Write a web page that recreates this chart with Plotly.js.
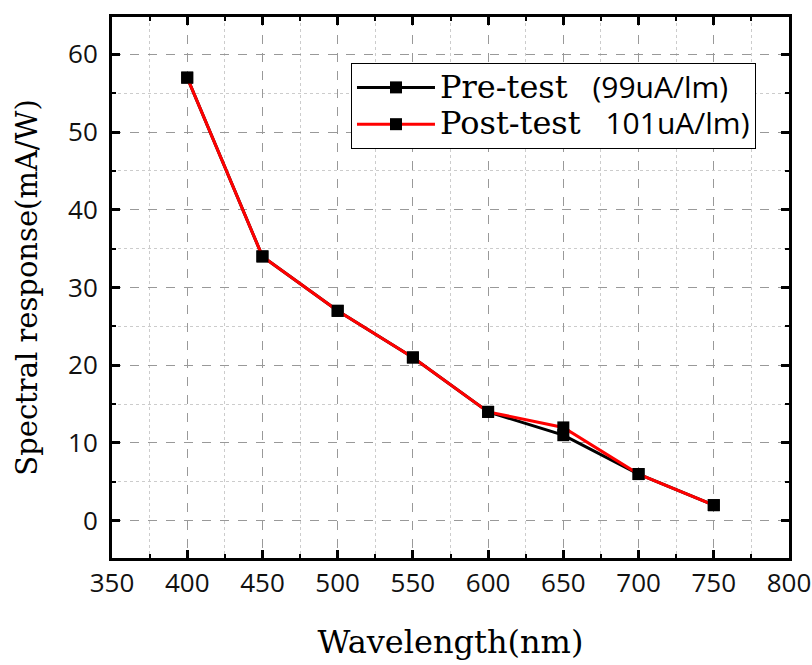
<!DOCTYPE html>
<html><head><meta charset="utf-8">
<script src="https://cdn.plot.ly/plotly-3.0.1.min.js"></script>
<style>body{margin:0;background:#fff}#c{width:812px;height:665px}</style>
</head><body><div id="c"></div>
<script>
const wavelength = [400, 450, 500, 550, 600, 650, 700, 750];
const preTest = [57, 34, 27, 21, 14, 11, 6, 2];
const postTest = [57, 34, 27, 21, 14, 12, 6, 2];
const preName = 'Pre-test';
const preNote = '(99uA/lm)';
const postName = 'Post-test';
const postNote = '101uA/lm)';

const nameSpan = t => '<span style="font-family:\'DejaVu Serif\',serif;font-size:32px">' + t + '</span>';
const noteSpan = t => '<span style="font-family:\'Open Sans\',sans-serif;font-size:30px">' + t + '</span>';

const traces = [
  {x: wavelength, y: preTest, type: 'scatter', mode: 'lines+markers',
   name: nameSpan(preName) + '\u00a0\u00a0\u00a0' + noteSpan(preNote),
   line: {color: '#000000', width: 3},
   marker: {symbol: 'square', size: 12, color: '#000000'}},
  {x: wavelength, y: postTest, type: 'scatter', mode: 'lines+markers',
   name: nameSpan(postName) + '\u00a0\u00a0\u00a0' + noteSpan(postNote),
   line: {color: '#ff0000', width: 3},
   marker: {symbol: 'square', size: 12, color: '#000000'}}
];

const axisCommon = {
  showline: true, linecolor: '#000', linewidth: 3, mirror: 'ticks',
  ticks: 'inside', ticklen: 8, tickwidth: 3, tickcolor: '#000',
  showgrid: true, gridcolor: '#999', griddash: 'dash', gridwidth: 1,
  zeroline: false,
  tickfont: {family: 'Open Sans, sans-serif', size: 26, color: '#111'}
};

const layout = {
  width: 812, height: 665,
  margin: {l: 112, r: 23, t: 17, b: 107},
  paper_bgcolor: '#fff', plot_bgcolor: '#fff',
  showlegend: true,
  legend: {x: 0.353, y: 0.915, xanchor: 'left', yanchor: 'top',
    bordercolor: '#000', borderwidth: 1, bgcolor: '#fff',
    itemwidth: 78,
    font: {family: 'DejaVu Serif, serif', size: 26, color: '#000'},
    tracegroupgap: 0},
  xaxis: Object.assign({}, axisCommon, {
    range: [350, 800], dtick: 50, tick0: 350, ticklabelstandoff: 0,
    minor: {dtick: 25, ticks: 'inside', ticklen: 4, tickwidth: 2, tickcolor: '#000',
            showgrid: true, gridcolor: '#ccc', griddash: 'dot', gridwidth: 1},
    title: {text: 'Wavelength(nm)', standoff: 32,
            font: {family: 'DejaVu Serif, serif', size: 32, color: '#000'}}
  }),
  yaxis: Object.assign({}, axisCommon, {
    range: [-4.8, 64.8], dtick: 10, tick0: 0, ticklabelstandoff: 6,
    minor: {dtick: 5, ticks: 'inside', ticklen: 4, tickwidth: 2, tickcolor: '#000',
            showgrid: true, gridcolor: '#ccc', griddash: 'dot', gridwidth: 1},
    title: {text: 'Spectral response(mA/W)', standoff: 22,
            font: {family: 'DejaVu Serif, serif', size: 29, color: '#000'}}
  })
};

Plotly.newPlot('c', traces, layout, {displayModeBar: false});
</script></body></html>
